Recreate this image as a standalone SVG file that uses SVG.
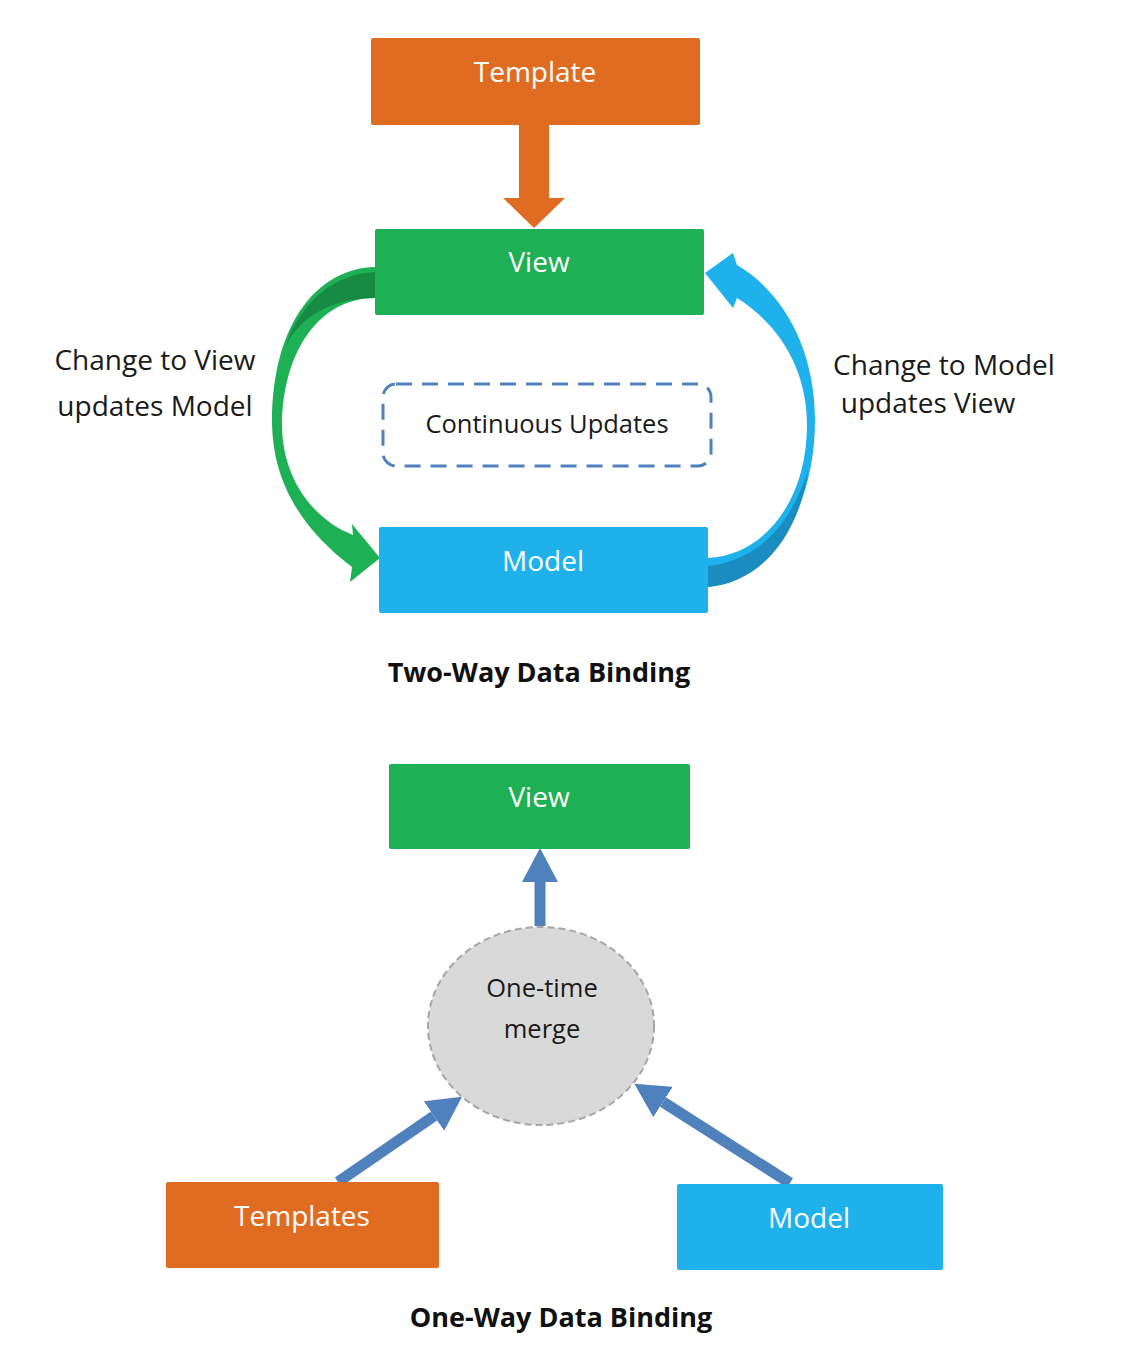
<svg xmlns="http://www.w3.org/2000/svg" width="1125" height="1362" viewBox="0 0 1125 1362">
<style>
  .t { font-family: "Open Sans", "Noto Sans", "Liberation Sans", sans-serif; }
  .box-text { fill: #FFFFFF; font-size: 28px; text-anchor: middle; }
  .label { fill: #1A1A1A; font-size: 28px; text-anchor: middle; }
  .small { font-size: 25.5px; }
  .title { fill: #111111; font-size: 27px; font-weight: bold; text-anchor: middle; }
  .orange { fill: #E06C22; }
  .green { fill: #1DB055; }
  .blue { fill: #1EB1EC; }
  .arrow-line { stroke: #4F81BD; stroke-width: 11; fill: none; }
</style>
<defs>
  <marker id="head" viewBox="0 0 34 36" markerUnits="userSpaceOnUse" markerWidth="34" markerHeight="36" refX="0" refY="18" orient="auto">
    <path d="M0,0 L34,18 L0,36 Z" fill="#4F81BD"/>
  </marker>
</defs>
<rect width="1125" height="1362" fill="#FFFFFF"/>

<g id="connectors">
  <polygon id="template-to-view" class="orange" points="519,124 549,124 549,198 565,198 534,228 503,198 519,198"/>
  <g id="view-to-model">
    <path class="green" d="M 375 267 C 320 268, 273 320, 272 420 C 272 490, 310 535, 352 567 L 350 582 L 380 558 L 352 524 L 353 535 C 310 518, 282 475, 282 425 C 283 350, 320 298, 375 298 Z"/>
    <path fill="#178A43" d="M 375 272 C 335 274, 302 300, 286 345 C 300 318, 330 298, 375 298 Z"/>
  </g>
  <g id="model-to-view">
    <path class="blue" d="M 708 587 C 770 582, 815 510, 815 420 C 815 345, 780 290, 737 265 L 733 253 L 705 273 L 733 308 L 737 298 C 780 325, 807 370, 807 425 C 807 500, 765 555, 708 558 Z"/>
    <path fill="#1A8CC0" d="M 708 566 C 752 562, 790 530, 808 470 C 800 530, 765 582, 708 587 Z"/>
  </g>
  <line id="merge-to-view" class="arrow-line" x1="540" y1="926" x2="540" y2="882" marker-end="url(#head)"/>
  <line id="templates-to-merge" class="arrow-line" x1="338" y1="1182" x2="434" y2="1116" marker-end="url(#head)"/>
  <line id="model-to-merge" class="arrow-line" x1="790" y1="1183" x2="663" y2="1102" marker-end="url(#head)"/>
</g>

<g id="template">
  <rect class="orange" x="371" y="38" width="329" height="87" rx="2"/>
  <text class="t box-text" x="535" y="82">Template</text>
</g>
<g id="view-top">
  <rect class="green" x="375" y="229" width="329" height="86" rx="2"/>
  <text class="t box-text" x="539" y="272">View</text>
</g>
<g id="model-top">
  <rect class="blue" x="379" y="527" width="329" height="86" rx="2"/>
  <text class="t box-text" x="543" y="571">Model</text>
</g>
<g id="continuous-updates">
  <rect x="383" y="384" width="328" height="82" rx="13" fill="none" stroke="#4F81BD" stroke-width="3" stroke-dasharray="16,10"/>
  <text class="t label small" x="547" y="433">Continuous Updates</text>
</g>
<g id="label-left">
  <text class="t label" x="155" y="370">Change to View</text>
  <text class="t label" x="155" y="416">updates Model</text>
</g>
<g id="label-right">
  <text class="t label" x="944" y="375">Change to Model</text>
  <text class="t label" x="928" y="413">updates View</text>
</g>
<g id="title-two-way">
  <text class="t title" x="539" y="682">Two-Way Data Binding</text>
</g>

<g id="view-bottom">
  <rect class="green" x="389" y="764" width="301" height="85" rx="2"/>
  <text class="t box-text" x="539" y="807">View</text>
</g>
<g id="one-time-merge">
  <ellipse cx="541" cy="1026" rx="113" ry="99" fill="#D9D9D9" stroke="#A6A6A6" stroke-width="2" stroke-dasharray="7,4"/>
  <text class="t label small" x="542" y="997">One-time</text>
  <text class="t label small" x="542" y="1038">merge</text>
</g>
<g id="templates">
  <rect class="orange" x="166" y="1182" width="273" height="86" rx="2"/>
  <text class="t box-text" x="302" y="1226">Templates</text>
</g>
<g id="model-bottom">
  <rect class="blue" x="677" y="1184" width="266" height="86" rx="2"/>
  <text class="t box-text" x="809" y="1228">Model</text>
</g>
<g id="title-one-way">
  <text class="t title" x="561" y="1327">One-Way Data Binding</text>
</g>
</svg>
